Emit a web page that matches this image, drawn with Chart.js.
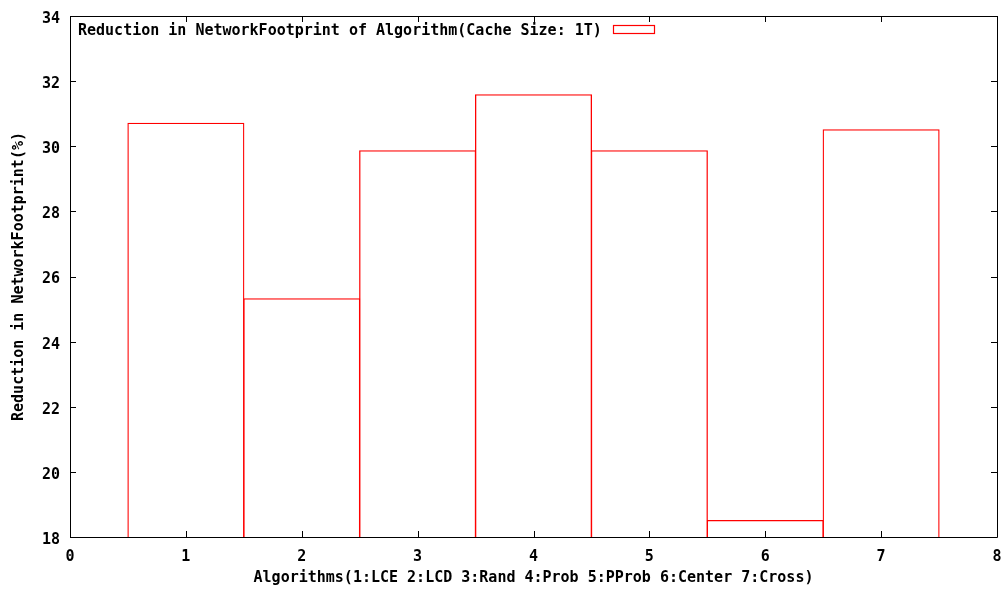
<!DOCTYPE html>
<html>
<head>
<meta charset="utf-8">
<script src="https://cdn.jsdelivr.net/npm/chart.js@4/dist/chart.umd.min.js"></script>
<style>
  html, body { margin: 0; padding: 0; background: #fff; }
  #wrap { width: 1003px; height: 590px; }
</style>
</head>
<body>
<div id="wrap"><canvas id="c" width="1003" height="590"></canvas></div>
<script>
// algorithm index on x, reduction (%) on y
const algoIds = [1, 2, 3, 4, 5, 6, 7];
const reduction = [30.72, 25.33, 29.88, 31.6, 29.88, 18.52, 30.52];
const xTicks = [0, 1, 2, 3, 4, 5, 6, 7, 8];
const yTicks = [18, 20, 22, 24, 26, 28, 30, 32, 34];

const seriesLabel = 'Reduction in NetworkFootprint of Algorithm(Cache Size: 1T)';
const FONT = 'DejaVu Sans Mono';

// gnuplot style frame with inward ticks on all sides
const framePlugin = {
  id: 'frame',
  afterDatasetsDraw(chart) {
    const { ctx, chartArea: a, scales } = chart;
    const len = 6;
    ctx.save();
    ctx.strokeStyle = '#000';
    ctx.lineWidth = 1;
    ctx.beginPath();
    ctx.rect(a.left + 0.5, a.top + 0.5, a.right - a.left, a.bottom - a.top);
    for (const v of xTicks) {
      const px = Math.round(scales.x.getPixelForValue(v)) + 0.5;
      ctx.moveTo(px, a.bottom); ctx.lineTo(px, a.bottom - len);
      ctx.moveTo(px, a.top); ctx.lineTo(px, a.top + len);
    }
    for (const v of yTicks) {
      const py = Math.round(scales.y.getPixelForValue(v)) + 0.5;
      ctx.moveTo(a.left, py); ctx.lineTo(a.left + len, py);
      ctx.moveTo(a.right, py); ctx.lineTo(a.right - len, py);
    }
    ctx.stroke();

    // key: text first, then sample box
    ctx.font = 'bold 15px "' + FONT + '"';
    ctx.fillStyle = '#000';
    ctx.textBaseline = 'middle';
    ctx.textAlign = 'left';
    ctx.fillText(chart.data.datasets[0].label, a.left + 8, a.top + 15);
    ctx.strokeStyle = '#ff0000';
    ctx.lineWidth = 1.2;
    ctx.strokeRect(613.5, 25.5, 41, 8);
    ctx.restore();
  }
};

new Chart(document.getElementById('c'), {
  type: 'bar',
  data: {
    datasets: [{
      label: seriesLabel,
      data: algoIds.map((x, i) => ({ x: x, y: reduction[i] })),
      backgroundColor: 'rgba(0,0,0,0)',
      borderColor: '#ff0000',
      borderWidth: 1.3,
      borderSkipped: false,
      barPercentage: 1.01,
      categoryPercentage: 1
    }]
  },
  options: {
    responsive: false,
    animation: false,
    layout: { padding: { top: 16, right: 6, left: 0, bottom: 0 } },
    plugins: { legend: { display: false }, tooltip: { enabled: false } },
    scales: {
      x: {
        type: 'linear',
        offset: false,
        min: 0, max: 8,
        afterBuildTicks: s => { s.ticks = xTicks.map(v => ({ value: v })); },
        afterFit: s => { s.height = 53; s.paddingLeft = 0; s.paddingRight = 0; },
        grid: { display: false, drawTicks: false, offset: false },
        border: { display: false },
        ticks: { padding: 11, color: '#000', font: { family: FONT, size: 15, weight: 'bold' }, maxRotation: 0 },
        title: {
          display: true,
          text: 'Algorithms(1:LCE 2:LCD 3:Rand 4:Prob 5:PProb 6:Center 7:Cross)',
          color: '#000',
          font: { family: FONT, size: 15, weight: 'bold' },
          padding: { top: 0, bottom: 3 }
        }
      },
      y: {
        min: 18, max: 34,
        afterBuildTicks: s => { s.ticks = yTicks.map(v => ({ value: v })); },
        afterFit: s => { s.width = 70; s.paddingTop = 0; s.paddingBottom = 0; },
        grid: { display: false, drawTicks: false },
        border: { display: false },
        ticks: { padding: 10, labelOffset: 3, color: '#000', font: { family: FONT, size: 15, weight: 'bold' } },
        title: {
          display: true,
          text: 'Reduction in NetworkFootprint(%)',
          color: '#000',
          font: { family: FONT, size: 15, weight: 'bold' },
          padding: { top: 10, bottom: 0 }
        }
      }
    }
  },
  plugins: [framePlugin]
});
</script>
</body>
</html>
